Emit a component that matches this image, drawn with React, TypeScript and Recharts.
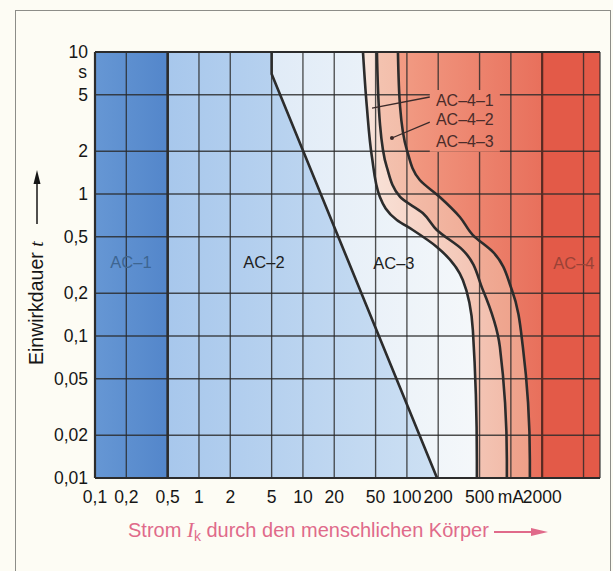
import React from 'react';
import {
  ComposedChart, Area, Line, XAxis, YAxis, CartesianGrid,
  ReferenceArea, ReferenceLine, ReferenceDot,
} from 'recharts';

// ---- axes ----
const xTicks = [0.1, 0.2, 0.5, 1, 2, 5, 10, 20, 50, 100, 200, 500, 1000, 2000, 5000];
const xTickLabels = ['0,1', '0,2', '0,5', '1', '2', '5', '10', '20', '50', '100', '200', '500', 'mA', '2000', ''];
const yTicks = [0.01, 0.02, 0.05, 0.1, 0.2, 0.5, 1, 2, 5, 10];
const yTickLabels = ['0,01', '0,02', '0,05', '0,1', '0,2', '0,5', '1', '2', '5', '10'];
const xDomain = [0.1, 7200];
const yDomain = [0.01, 10];

// ---- zone boundaries: current x (mA) over time t (s) ----
const curveB = [
  { t: 10, x: 5 }, { t: 7, x: 5 }, { t: 0.01, x: 195 },
];
const curveC1 = [
  { t: 10, x: 37.8 }, { t: 4.1, x: 41.2 }, { t: 1.82, x: 46.1 }, { t: 0.953, x: 55 },
  { t: 0.656, x: 80 }, { t: 0.558, x: 114 }, { t: 0.424, x: 194 }, { t: 0.248, x: 345 },
  { t: 0.11, x: 431 }, { t: 0.0134, x: 471 }, { t: 0.01, x: 471 },
];
const curveC2 = [
  { t: 10, x: 51.5 }, { t: 3.16, x: 55 }, { t: 1.55, x: 64 }, { t: 0.953, x: 86 },
  { t: 0.735, x: 142 }, { t: 0.558, x: 194 }, { t: 0.403, x: 345 }, { t: 0.211, x: 538 },
  { t: 0.0838, x: 784 }, { t: 0.0134, x: 915 }, { t: 0.01, x: 915 },
];
const curveC3 = [
  { t: 10, x: 82 }, { t: 4.1, x: 86 }, { t: 2.04, x: 100 }, { t: 1.255, x: 133 },
  { t: 0.953, x: 207 }, { t: 0.689, x: 323 }, { t: 0.514, x: 431 }, { t: 0.391, x: 671 },
  { t: 0.211, x: 1023 }, { t: 0.0838, x: 1304 }, { t: 0.0134, x: 1523 }, { t: 0.01, x: 1523 },
];
const ac1Limit = 0.5;
const ac4Limit = 2000;

// ---- zone labels ----
const zoneNames = ['AC–1', 'AC–2', 'AC–3', 'AC–4'];
const zoneX = [0.222, 4.22, 75, 4036];
const zoneT = [0.332, 0.332, 0.326, 0.326];
const zoneColors = ['#3d6591', '#1e1e1e', '#1e1e1e', '#9a4236'];
const subNames = ['AC–4–1', 'AC–4–2', 'AC–4–3'];
const subX = [361, 361, 361];
const subT = [4.59, 3.37, 2.36];
const leader1 = [{ x: 166, y: 4.82 }, { x: 46.2, y: 4.03 }];
const leader2 = [{ x: 166, y: 3.21 }, { x: 71.8, y: 2.48 }];

const FONT = '"Liberation Sans", Arial, Helvetica, sans-serif';
const LINE = '#2c2c2c';

export default function App() {
  return (
    <div style={{ position: 'absolute', left: 0, top: 0, width: 613, height: 571, background: '#fdfcf4', overflow: 'hidden', fontFamily: FONT }}>
      <div style={{ position: 'absolute', left: 15, top: 10, width: 594, height: 600, borderLeft: '1.5px solid #8d8d88', borderTop: '1.5px solid #8d8d88', borderRight: '1.5px solid #8d8d88' }} />
      <ComposedChart
        width={613}
        height={571}
        layout="vertical"
        data={curveB}
        margin={{ top: 52, right: 13, bottom: 0, left: 0 }}
        style={{ position: 'absolute', left: 0, top: 0 }}
      >
        <defs>
          <linearGradient id="gAC1" gradientUnits="userSpaceOnUse" x1={95} y1={0} x2={164} y2={0}>
            <stop offset="0" stopColor="#6697d4" />
            <stop offset="1" stopColor="#5487cb" />
          </linearGradient>
          <linearGradient id="gAC2" gradientUnits="userSpaceOnUse" x1={164} y1={0} x2={436} y2={0}>
            <stop offset="0" stopColor="#a7c7ec" />
            <stop offset="1" stopColor="#cde0f3" />
          </linearGradient>
          <linearGradient id="gAC3" gradientUnits="userSpaceOnUse" x1={272} y1={0} x2={480} y2={0}>
            <stop offset="0" stopColor="#e0ebf7" />
            <stop offset="1" stopColor="#f5f8fa" />
          </linearGradient>
          <linearGradient id="gC1" gradientUnits="userSpaceOnUse" x1={363} y1={0} x2={507} y2={0}>
            <stop offset="0" stopColor="#f9e4da" />
            <stop offset="1" stopColor="#f2bcaa" />
          </linearGradient>
          <linearGradient id="gC2" gradientUnits="userSpaceOnUse" x1={377} y1={0} x2={530} y2={0}>
            <stop offset="0" stopColor="#f4c3b0" />
            <stop offset="1" stopColor="#ee9f88" />
          </linearGradient>
          <linearGradient id="gC3" gradientUnits="userSpaceOnUse" x1={398} y1={0} x2={541} y2={0}>
            <stop offset="0" stopColor="#f29c84" />
            <stop offset="1" stopColor="#e8705c" />
          </linearGradient>
        </defs>

        <XAxis
          type="number"
          dataKey="x"
          scale="log"
          domain={xDomain}
          allowDataOverflow
          ticks={xTicks}
          interval={0}
          tickFormatter={(v) => xTickLabels[xTicks.indexOf(v)] ?? ''}
          axisLine={false}
          tickLine={false}
          tickSize={0}
          tickMargin={13}
          height={93}
          tick={{ fontSize: 17.5, fill: '#161616', fontFamily: FONT }}
        />
        <YAxis
          type="number"
          dataKey="t"
          scale="log"
          domain={yDomain}
          allowDataOverflow
          reversed
          ticks={yTicks}
          interval={0}
          tickFormatter={(v) => yTickLabels[yTicks.indexOf(v)] ?? ''}
          axisLine={false}
          tickLine={false}
          tickSize={0}
          tickMargin={7}
          width={95}
          tick={{ fontSize: 17.5, fill: '#161616', fontFamily: FONT }}
        />

        <ReferenceArea x1={xDomain[0]} x2={ac1Limit} fill="url(#gAC1)" fillOpacity={1} stroke="none" zIndex={1} ifOverflow="extendDomain" />
        <ReferenceArea x1={ac1Limit} x2={xDomain[1]} fill="url(#gAC2)" fillOpacity={1} stroke="none" zIndex={1} ifOverflow="extendDomain" />

        <Area data={curveB} dataKey="x" type="linear" baseValue="dataMax" fill="url(#gAC3)" fillOpacity={1} stroke="none" isAnimationActive={false} dot={false} activeDot={false} zIndex={2} />
        <Area data={curveC1} dataKey="x" type="monotone" baseValue="dataMax" fill="url(#gC1)" fillOpacity={1} stroke="none" isAnimationActive={false} dot={false} activeDot={false} zIndex={3} />
        <Area data={curveC2} dataKey="x" type="monotone" baseValue="dataMax" fill="url(#gC2)" fillOpacity={1} stroke="none" isAnimationActive={false} dot={false} activeDot={false} zIndex={4} />
        <Area data={curveC3} dataKey="x" type="monotone" baseValue="dataMax" fill="url(#gC3)" fillOpacity={1} stroke="none" isAnimationActive={false} dot={false} activeDot={false} zIndex={5} />

        <ReferenceArea x1={ac4Limit} x2={xDomain[1]} fill="#e35a48" fillOpacity={1} stroke="none" zIndex={6} ifOverflow="extendDomain" />

        <CartesianGrid stroke="#2a2a2a" strokeOpacity={0.82} strokeWidth={1.35} zIndex={7} />

        <ReferenceArea x1={166} x2={784} y1={5.4} y2={1.98} fill="url(#gC3)" fillOpacity={1} stroke="none" zIndex={8} />

        <ReferenceLine x={ac1Limit} stroke={LINE} strokeWidth={2.6} zIndex={9} />
        <ReferenceLine x={ac4Limit} stroke="#5a2a22" strokeWidth={2.2} zIndex={9} />
        <ReferenceLine y={10} stroke={LINE} strokeWidth={2.2} zIndex={9} />
        <ReferenceLine y={0.01} stroke={LINE} strokeWidth={2.2} zIndex={9} />
        <ReferenceLine x={0.1} stroke={LINE} strokeWidth={2.2} zIndex={9} />

        <Line data={curveB} dataKey="x" type="linear" stroke={LINE} strokeWidth={2.6} dot={false} activeDot={false} isAnimationActive={false} zIndex={9} />
        <Line data={curveC1} dataKey="x" type="monotone" stroke={LINE} strokeWidth={2.6} dot={false} activeDot={false} isAnimationActive={false} zIndex={9} />
        <Line data={curveC2} dataKey="x" type="monotone" stroke={LINE} strokeWidth={2.6} dot={false} activeDot={false} isAnimationActive={false} zIndex={9} />
        <Line data={curveC3} dataKey="x" type="monotone" stroke={LINE} strokeWidth={2.6} dot={false} activeDot={false} isAnimationActive={false} zIndex={9} />

        <ReferenceLine segment={leader1} stroke="#3a2a2a" strokeWidth={1.3} zIndex={10} />
        <ReferenceLine segment={leader2} stroke="#3a2a2a" strokeWidth={1.3} zIndex={10} />
        <ReferenceDot x={leader2[1].x} y={leader2[1].y} r={2} fill="#3a2a2a" stroke="none" zIndex={10} />

        {zoneNames.map((n, i) => (
          <ReferenceDot key={n} x={zoneX[i]} y={zoneT[i]} r={0} fill="none" stroke="none" zIndex={11}
            label={{ value: n, position: 'center', fill: zoneColors[i], fontSize: 16.5, fontFamily: FONT }} />
        ))}
        {subNames.map((n, i) => (
          <ReferenceDot key={n} x={subX[i]} y={subT[i]} r={0} fill="none" stroke="none" zIndex={11}
            label={{ value: n, position: 'center', fill: '#4a2c2a', fontSize: 16, fontFamily: FONT }} />
        ))}
      </ComposedChart>

      <svg width={613} height={571} style={{ position: 'absolute', left: 0, top: 0, pointerEvents: 'none' }}>
        <text x={87} y={72} textAnchor="end" dominantBaseline="central" fontSize={17.5} fill="#161616" fontFamily={FONT}>s</text>
        <text transform="translate(43,365) rotate(-90)" fontSize={19.5} fill="#161616" fontFamily={FONT}>
          Einwirkdauer <tspan fontStyle="italic" fontFamily='"Liberation Serif", serif'>t</tspan>
        </text>
        <line x1={37} y1={224} x2={37} y2={182} stroke="#161616" strokeWidth={1.5} />
        <polygon points="37,170 33.5,184 40.5,184" fill="#161616" />
        <text x={128} y={537} fontSize={20} fill="#e06a8a" fontFamily={FONT}>
          Strom <tspan fontStyle="italic" fontFamily='"Liberation Serif", serif' fontSize={21}>I</tspan>
          <tspan fontSize={14} dy={4}>k</tspan>
          <tspan dy={-4}> durch den menschlichen Körper</tspan>
        </text>
        <line x1={494} y1={532} x2={536} y2={532} stroke="#e06a8a" strokeWidth={1.8} />
        <polygon points="548,532 531,528 531,536" fill="#e06a8a" />
      </svg>
    </div>
  );
}
